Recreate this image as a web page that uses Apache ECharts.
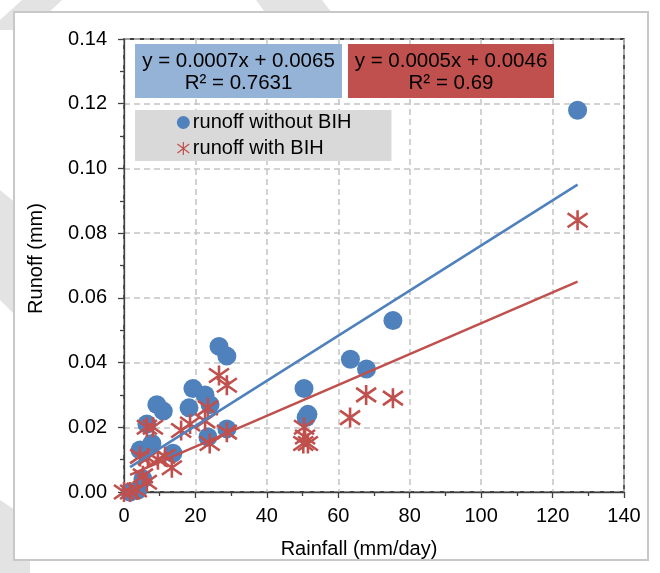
<!DOCTYPE html>
<html>
<head>
<meta charset="utf-8">
<script src="https://cdn.jsdelivr.net/npm/echarts@6/dist/echarts.min.js"></script>
<style>html,body{margin:0;padding:0;background:#fff}#c{width:660px;height:573px}</style>
</head>
<body>
<div id="c"></div>
<script>
// ---- data ----
const withoutRain = [1.7, 3.9, 5.3, 4.5, 7.8, 6.4, 9.2, 11.0, 13.7, 18.2, 19.3, 22.7, 24.1, 23.5, 28.8, 26.6, 28.8, 50.4, 51.5, 51.0, 63.4, 67.9, 75.3, 127];
const withoutRunoff = [0.000, 0.0006, 0.004, 0.013, 0.015, 0.021, 0.027, 0.025, 0.012, 0.026, 0.032, 0.030, 0.027, 0.017, 0.0195, 0.045, 0.042, 0.032, 0.024, 0.023, 0.041, 0.038, 0.053, 0.118];
const withRain = [0, 1.7, 3.6, 6.4, 5.3, 4.5, 6.7, 9.5, 11.5, 13.4, 6.4, 8.1, 16.0, 18.5, 22.7, 23.5, 24.0, 28.8, 26.6, 28.8, 50.4, 50.7, 51.5, 50.2, 63.3, 67.8, 75.3, 127];
const withRunoff = [0, 0, 0.0006, 0.003, 0.005, 0.011, 0.0105, 0.010, 0.011, 0.0075, 0.020, 0.020, 0.019, 0.021, 0.022, 0.026, 0.015, 0.0185, 0.036, 0.033, 0.020, 0.017, 0.015, 0.015, 0.023, 0.030, 0.029, 0.084];
const trendWithoutX = [1.7, 127];
const trendWithoutY = [0.0077, 0.095];
const trendWithX = [1.7, 127];
const trendWithY = [0.0053, 0.065];
const seriesNames = ['runoff without BIH', 'runoff with BIH'];
const eqWithout = ['y = 0.0007x + 0.0065', 'R² = 0.7631'];
const eqWith = ['y = 0.0005x + 0.0046', 'R² = 0.69'];
const xTitle = 'Rainfall (mm/day)';
const yTitle = 'Runoff (mm)';

const pairs = (xs, ys) => xs.map((x, i) => [x, ys[i]]);
const FONT = '"Liberation Sans", Arial, sans-serif';
const BLUE = '#4f81bd', RED = '#c0504d';
const STAR = 'path://M10,0 L10,20 M1,3 L19,17 M1,17 L19,3';
const WM = '#e3e3e3';

const chart = echarts.init(document.getElementById('c'));
chart.setOption({
  animation: false,
  backgroundColor: '#ffffff',
  textStyle: { fontFamily: FONT },
  grid: { left: 124, right: 36, top: 39, bottom: 81, show: true, borderColor: '#000', borderWidth: 1.3, backgroundColor: 'transparent' },
  xAxis: {
    type: 'value', min: 0, max: 140, interval: 20,
    name: xTitle, nameLocation: 'middle', nameGap: 47,
    nameTextStyle: { fontSize: 20, color: '#000', fontFamily: FONT, padding: [0, 30, 0, 0] },
    axisLine: { show: true, lineStyle: { color: '#404040', width: 1.3 } },
    axisTick: { show: true, length: 6, lineStyle: { color: '#404040', width: 1.3 } },
    minorTick: { show: true, splitNumber: 2, length: 4, lineStyle: { color: '#404040', width: 1.3 } },
    axisLabel: { fontSize: 20, color: '#000', margin: 14, fontFamily: FONT },
    splitLine: { show: true, lineStyle: { color: '#c4c4c4', type: [6, 4], width: 1.5 } }
  },
  yAxis: {
    type: 'value', min: 0, max: 0.14, interval: 0.02,
    name: yTitle, nameLocation: 'middle', nameGap: 78, nameRotate: 90,
    nameTextStyle: { fontSize: 20, color: '#000', fontFamily: FONT, padding: [0, 0, 0, 14] },
    axisLine: { show: true, lineStyle: { color: '#404040', width: 1.3 } },
    axisTick: { show: true, length: 6, lineStyle: { color: '#404040', width: 1.3 } },
    minorTick: { show: true, splitNumber: 2, length: 4, lineStyle: { color: '#404040', width: 1.3 } },
    axisLabel: { fontSize: 20, color: '#000', margin: 17, fontFamily: FONT, formatter: v => v.toFixed(2) },
    splitLine: { show: true, lineStyle: { color: '#c4c4c4', type: [6, 4], width: 1.5 } }
  },
  legend: {
    left: 135, top: 110, orient: 'vertical', z: 20,
    backgroundColor: '#d9d9d9', borderRadius: 0,
    padding: [2, 40, 2, 40], itemGap: 5, itemWidth: 13, itemHeight: 13,
    textStyle: { fontSize: 20, color: '#000', fontFamily: FONT, lineHeight: 21, padding: [0, 0, 0, -2] },
    data: [
      { name: seriesNames[0], icon: 'circle' },
      { name: seriesNames[1], icon: STAR, itemStyle: { color: 'none', borderColor: RED, borderWidth: 1.2 } }
    ]
  },
  graphic: [
    { type: 'polygon', z: -20, shape: { points: [[22, 0], [62, 0], [30, 30], [0, 30], [0, 20]] }, style: { fill: WM } },
    { type: 'polygon', z: -20, shape: { points: [[256, 0], [322, 0], [345, 30], [278, 30]] }, style: { fill: WM } },
    { type: 'polygon', z: -20, shape: { points: [[0, 190], [30, 215], [30, 330], [0, 300]] }, style: { fill: WM } },
    { type: 'polygon', z: -20, shape: { points: [[0, 500], [30, 520], [30, 573], [0, 573]] }, style: { fill: WM } },
    { type: 'rect', z: -10, shape: { x: 14, y: 12, width: 634, height: 548 }, style: { fill: '#fff', stroke: '#c8c8c8', lineWidth: 2 } },
    { type: 'group', z: 50, children: [
      { type: 'rect', z: 50, shape: { x: 135, y: 44, width: 207, height: 54 }, style: { fill: '#95b3d7' } },
      { type: 'text', z: 51, style: { text: eqWithout[0], x: 238.5, y: 61, textAlign: 'center', textVerticalAlign: 'middle', font: '20.5px ' + FONT, fill: '#000' } },
      { type: 'text', z: 51, style: { text: eqWithout[1], x: 238.5, y: 83, textAlign: 'center', textVerticalAlign: 'middle', font: '20.5px ' + FONT, fill: '#000' } },
      { type: 'rect', z: 50, shape: { x: 348, y: 44, width: 206, height: 54 }, style: { fill: RED } },
      { type: 'text', z: 51, style: { text: eqWith[0], x: 451, y: 61, textAlign: 'center', textVerticalAlign: 'middle', font: '20.5px ' + FONT, fill: '#000' } },
      { type: 'text', z: 51, style: { text: eqWith[1], x: 451, y: 83, textAlign: 'center', textVerticalAlign: 'middle', font: '20.5px ' + FONT, fill: '#000' } }
    ] }
  ],
  series: [
    { name: seriesNames[0], type: 'scatter', symbol: 'circle', symbolSize: 19, z: 2,
      itemStyle: { color: BLUE, opacity: 1 }, data: pairs(withoutRain, withoutRunoff) },
    { name: seriesNames[1], type: 'scatter', symbol: STAR, symbolSize: [20, 20], z: 3,
      itemStyle: { color: 'none', borderColor: RED, borderWidth: 2.6, opacity: 1 }, data: pairs(withRain, withRunoff) },
    { name: 'trend1', type: 'line', showSymbol: false, symbol: 'none', z: 4, silent: true,
      lineStyle: { color: BLUE, width: 2.5 }, data: pairs(trendWithoutX, trendWithoutY) },
    { name: 'trend2', type: 'line', showSymbol: false, symbol: 'none', z: 4, silent: true,
      lineStyle: { color: RED, width: 2.5 }, data: pairs(trendWithX, trendWithY) }
  ]
});
</script>
</body>
</html>
